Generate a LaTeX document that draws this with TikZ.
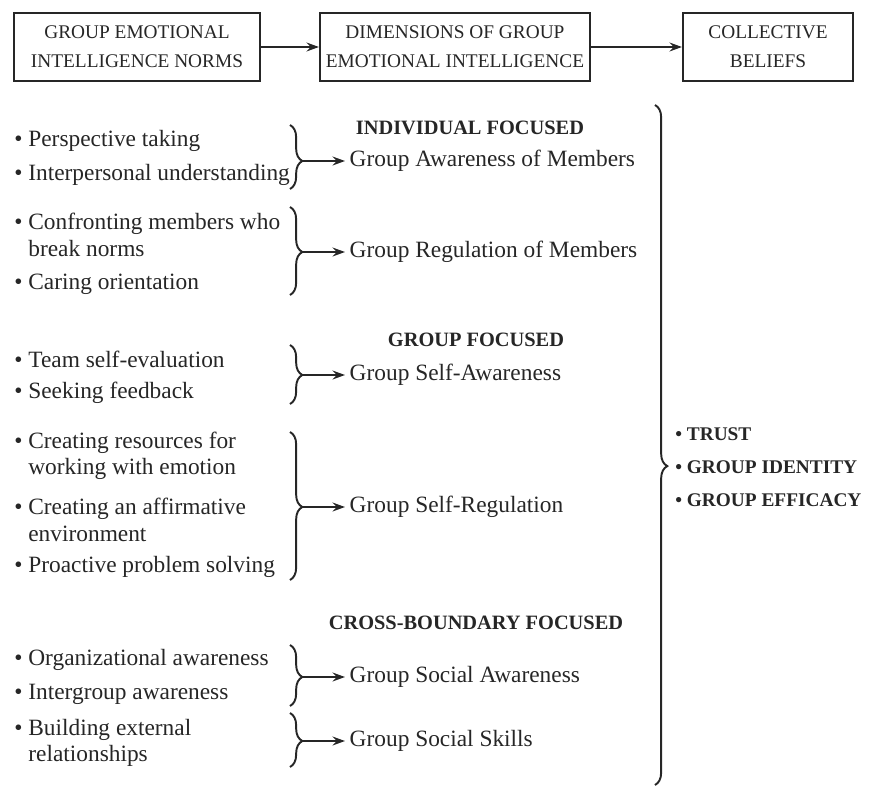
\documentclass[tikz,border=0pt]{standalone}
\usepackage{fontspec}
\setmainfont{Liberation Serif}
\usetikzlibrary{decorations.pathreplacing, arrows.meta}
\definecolor{ink}{gray}{0.15}

\newcommand{\NormBrace}[4]{% name, top, bottom, tip
\pgfmathsetmacro{\BraceAspect}{(#4-#2)/(#3-#2)} % where the tip sits between top and bottom
\draw[bracket, decoration={brace, amplitude=7pt, aspect=\BraceAspect}] (290,#2) -- (290,#3);
\coordinate (#1) at (302.5,#4);
}

\begin{document}
\begin{tikzpicture}[x=0.02cm, y=-0.02cm, >={Stealth[length=7pt, width=5pt]},
box/.style={draw=ink, line width=1.2pt, minimum height=1.36cm, inner sep=0, align=center, text=ink, font={\fontsize{11}{16.4}\selectfont}},
link/.style={->, draw=ink, line width=1.4pt},
bracket/.style={draw=ink, line width=1.1pt, decorate},
norm/.style={anchor=west, inner sep=0, align=left, text=ink, font={\fontsize{13.3}{15}\selectfont}},
dimension/.style={anchor=west, inner xsep=2.5pt, inner ysep=0, text=ink, font={\fontsize{13.3}{15}\selectfont}},
focus/.style={inner sep=0, text=ink, font={\bfseries\fontsize{11.6}{14}\selectfont}},
belief/.style={anchor=west, inner sep=0, text=ink, font={\bfseries\fontsize{11}{14}\selectfont}},
]
\useasboundingbox (0,0) rectangle (873,788);

%%%%%%%%%%%%%%%%%%%%%%%% HEADER BOXES %%%%%%%%%%%%%%%%%%%%%%%%
\node[box, minimum width=4.92cm] (norms) at (137,47) {GROUP EMOTIONAL\\INTELLIGENCE NORMS};
\node[box, minimum width=5.4cm] (dims) at (455,47) {DIMENSIONS OF GROUP\\EMOTIONAL INTELLIGENCE};
\node[box, minimum width=3.4cm] (beliefs) at (768,47) {COLLECTIVE\\BELIEFS};
\draw[link] (norms) -- (dims);
\draw[link] (dims) -- (beliefs);

%%%%%%%%%%%%%%%%%%%%%%%% NORMS (left column) %%%%%%%%%%%%%%%%%%%%%%%%
\node[norm] (n1) at (14,141) {\textbullet\ Perspective taking};
\node[norm] (n2) at (14,175) {\textbullet\ Interpersonal understanding};
\node[norm] (n3) at (14,235) {\textbullet\ Confronting members who\\\hphantom{\textbullet\ }break norms};
\node[norm] (n4) at (14,284) {\textbullet\ Caring orientation};
\node[norm] (n5) at (14,359) {\textbullet\ Team self-evaluation};
\node[norm] (n6) at (14,393) {\textbullet\ Seeking feedback};
\node[norm] (n7) at (14,456) {\textbullet\ Creating resources for\\\hphantom{\textbullet\ }working with emotion};
\node[norm] (n8) at (14,520) {\textbullet\ Creating an affirmative\\\hphantom{\textbullet\ }environment};
\node[norm] (n9) at (14,567) {\textbullet\ Proactive problem solving};
\node[norm] (n10) at (14,660) {\textbullet\ Organizational awareness};
\node[norm] (n11) at (14,694) {\textbullet\ Intergroup awareness};
\node[norm] (n12) at (14,743) {\textbullet\ Building external\\\hphantom{\textbullet\ }relationships};

%%%%%%%%%%%%%%%%%%%%%%%% DIMENSIONS (middle column) %%%%%%%%%%%%%%%%%%%%%%%%
\node[focus] (indiv) at (470,128) {INDIVIDUAL FOCUSED};
\node[focus] (group) at (476,340) {GROUP FOCUSED};
\node[focus] (cross) at (476,623) {CROSS-BOUNDARY FOCUSED};

\node[dimension] (d1) at (345,161) {Group Awareness of Members};
\node[dimension] (d2) at (345,252) {Group Regulation of Members};
\node[dimension] (d3) at (345,375) {Group Self-Awareness};
\node[dimension] (d4) at (345,507) {Group Self-Regulation};
\node[dimension] (d5) at (345,677) {Group Social Awareness};
\node[dimension] (d6) at (345,741) {Group Social Skills};

\NormBrace{b1}{125}{189}{161}
\NormBrace{b2}{207}{295}{252}
\NormBrace{b3}{345}{404}{375}
\NormBrace{b4}{432}{580}{507}
\NormBrace{b5}{645}{706}{677}
\NormBrace{b6}{713}{767}{741}

\draw[link, line width=1.2pt] (b1) -- (d1.west);
\draw[link, line width=1.2pt] (b2) -- (d2.west);
\draw[link, line width=1.2pt] (b3) -- (d3.west);
\draw[link, line width=1.2pt] (b4) -- (d4.west);
\draw[link, line width=1.2pt] (b5) -- (d5.west);
\draw[link, line width=1.2pt] (b6) -- (d6.west);

%%%%%%%%%%%%%%%%%%%%%%%% BELIEFS (right column) %%%%%%%%%%%%%%%%%%%%%%%%
\draw[bracket, decoration={brace, amplitude=7pt, aspect=0.531}] (655,105) -- (655,785);
\coordinate (bigtip) at (667.5,466);

\node[belief] (trust) at (675,434) {\textbullet\ TRUST};
\node[belief] (identity) at (675,467) {\textbullet\ GROUP IDENTITY};
\node[belief] (efficacy) at (675,500) {\textbullet\ GROUP EFFICACY};

\end{tikzpicture}
\end{document}
